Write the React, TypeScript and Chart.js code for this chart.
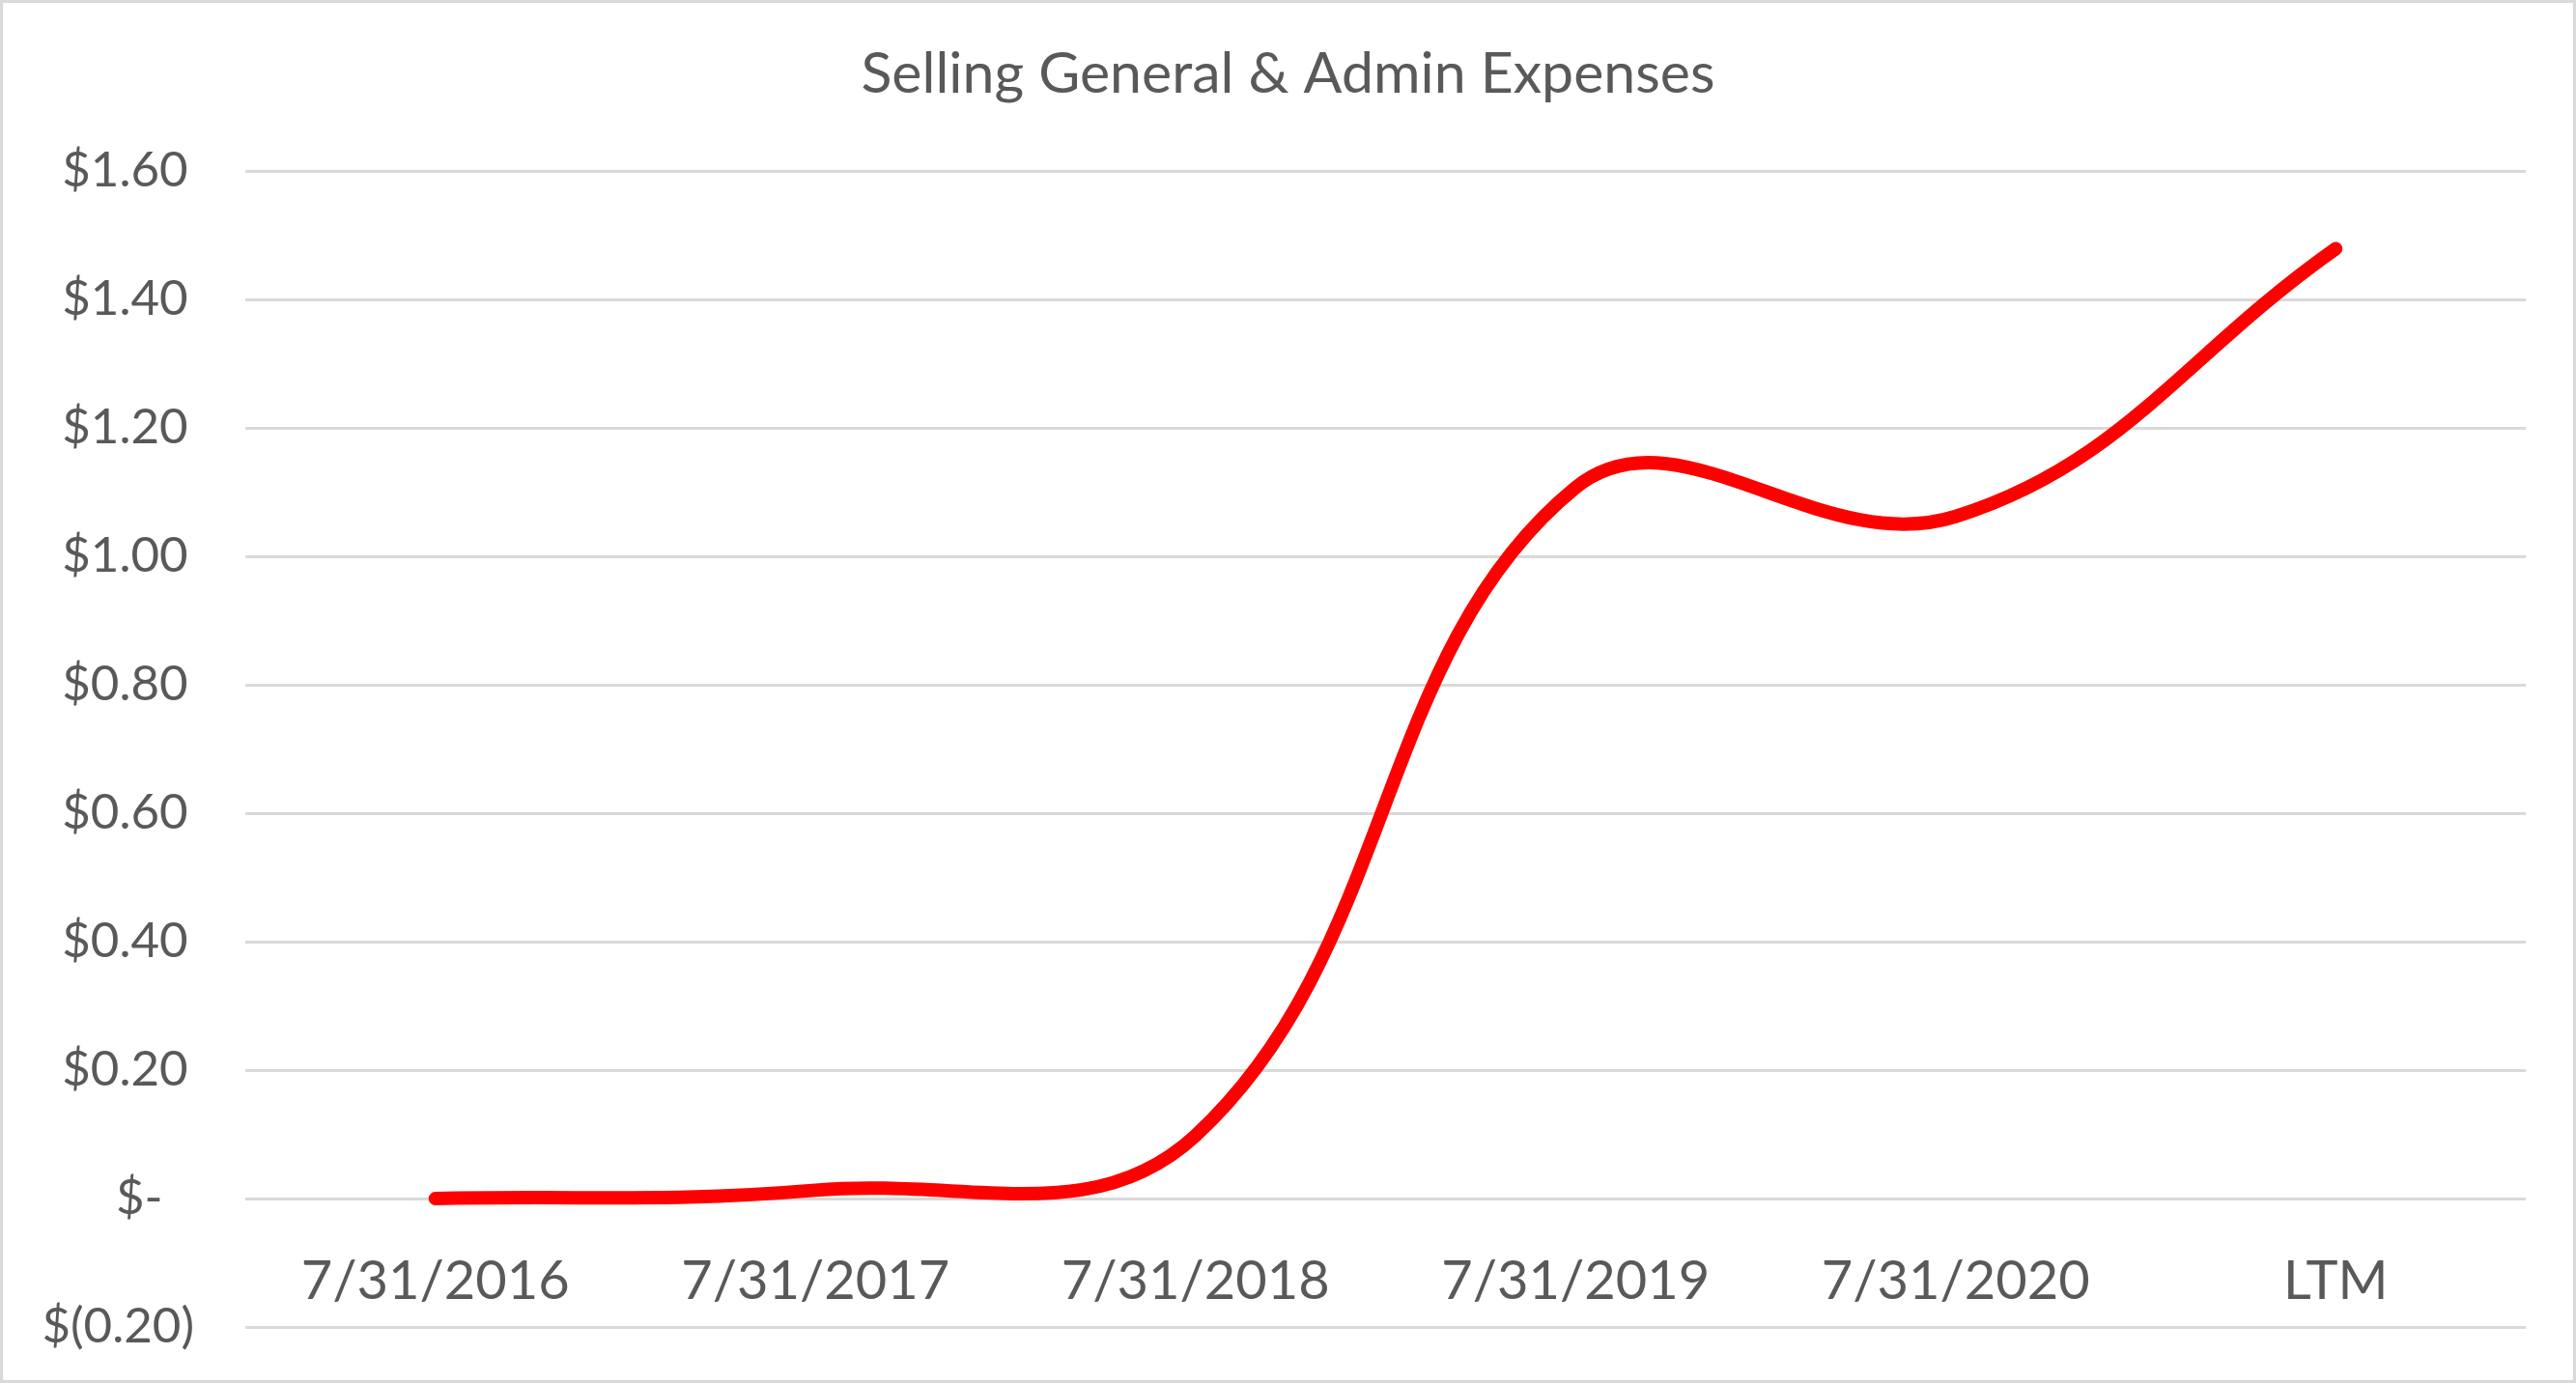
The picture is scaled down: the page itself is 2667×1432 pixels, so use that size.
import React, { useEffect, useRef } from "react";
import { Chart, registerables } from "chart.js";

Chart.register(...registerables);

const chartTitle = "Selling General & Admin Expenses";
const categories = ["7/31/2016", "7/31/2017", "7/31/2018", "7/31/2019", "7/31/2020", "LTM"];
const sgaValues = [0.0, 0.013, 0.098, 1.107, 1.062, 1.479];
const yMin = -0.2;
const yMax = 1.6;
const yStep = 0.2;

const FONT = "Lato, 'Open Sans', sans-serif";
const TEXT = "#595959";
const GRID = "#d9d9d9";

function fmtAccounting(v: number): string {
  const r = Math.round(v * 100) / 100;
  if (Math.abs(r) < 1e-9) return "$-  \u2009";
  if (r < 0) return "$(" + Math.abs(r).toFixed(2) + ")";
  return "$" + r.toFixed(2) + "\u2009";
}

const titlePlugin = {
  id: "centerTitle",
  afterDraw(chart: any) {
    const ctx = chart.ctx;
    ctx.save();
    ctx.fillStyle = TEXT;
    ctx.font = "59px " + FONT;
    ctx.textAlign = "center";
    ctx.textBaseline = "middle";
    ctx.fillText(chartTitle, chart.width / 2, 74);
    ctx.restore();
  },
};

export default function App() {
  const ref = useRef<HTMLCanvasElement | null>(null);
  useEffect(() => {
    if (!ref.current) return;
    const chart = new Chart(ref.current, {
      type: "line",
      data: {
        labels: categories,
        datasets: [
          {
            data: sgaValues,
            borderColor: "#ff0000",
            backgroundColor: "#ff0000",
            borderWidth: 14,
            borderCapStyle: "round",
            borderJoinStyle: "round",
            pointRadius: 0,
            tension: 0.4,
            fill: false,
          },
        ],
      },
      options: {
        responsive: true,
        maintainAspectRatio: false,
        animation: false,
        layout: { padding: { top: 174, left: 0, right: 49, bottom: 55 } },
        plugins: {
          legend: { display: false },
          tooltip: { enabled: false },
          title: { display: false },
        },
        scales: {
          x: {
            type: "category",
            position: { y: 0 } as any,
            offset: true,
            grid: { display: false, drawTicks: false },
            border: { display: false },
            afterFit: (s: any) => {
              s.height = 0;
              s.paddingTop = 0;
              s.paddingBottom = 0;
            },
            ticks: {
              color: TEXT,
              font: { family: FONT, size: 56 },
              padding: 52,
              maxRotation: 0,
              autoSkip: false,
            },
          },
          y: {
            min: yMin,
            max: yMax,
            grid: { color: GRID, lineWidth: 3, drawTicks: false },
            border: { display: false },
            afterFit: (s: any) => {
              s.width = 251;
              s.paddingTop = 0;
              s.paddingBottom = 0;
            },
            ticks: {
              stepSize: yStep,
              color: TEXT,
              font: { family: FONT, size: 51 },
              padding: 53,
              callback: (v: any) => fmtAccounting(Number(v)),
            },
          },
        },
      },
      plugins: [titlePlugin],
    });
    return () => chart.destroy();
  }, []);
  return (
    <div
      style={{
        position: "fixed",
        left: 0,
        top: 0,
        width: 2667,
        height: 1432,
        boxSizing: "border-box",
        border: "3px solid #d9d9d9",
        background: "#ffffff",
      }}
    >
      <div style={{ position: "relative", width: 2661, height: 1426 }}>
        <canvas ref={ref} />
      </div>
    </div>
  );
}
